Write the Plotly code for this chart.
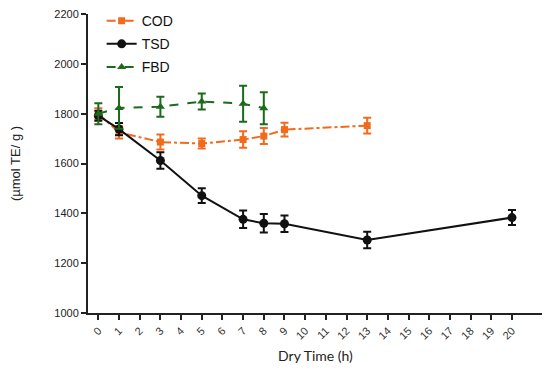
import plotly.graph_objects as go

# Data
cod_x = [0, 1, 3, 5, 7, 8, 9, 13]
cod_y = [1800, 1725, 1686, 1680, 1696, 1710, 1736, 1752]
cod_err = [22, 25, 30, 20, 33, 32, 28, 32]

tsd_x = [0, 1, 3, 5, 7, 8, 9, 13, 20]
tsd_y = [1792, 1738, 1612, 1471, 1376, 1360, 1358, 1293, 1383]
tsd_err = [20, 25, 33, 30, 35, 37, 33, 33, 30]

fbd_x = [0, 1, 3, 5, 7, 8]
fbd_y = [1800, 1823, 1828, 1849, 1840, 1822]
fbd_err = [42, 84, 40, 32, 72, 64]

x_ticks = list(range(0, 21))
y_ticks = [1000, 1200, 1400, 1600, 1800, 2000, 2200]

ORANGE = "#F26A1B"
GREEN = "#1C6B1C"
BLACK = "#111111"
FONT = "Liberation Sans, Arial, sans-serif"

fig = go.Figure()

fig.add_trace(go.Scatter(
    x=cod_x, y=cod_y, name="COD", mode="lines+markers", legendgroup="a",
    line=dict(color=ORANGE, width=2, dash="dashdot"),
    marker=dict(symbol="square", size=7, color=ORANGE),
    error_y=dict(type="data", array=cod_err, color=ORANGE, thickness=2, width=4),
))
fig.add_trace(go.Scatter(
    x=tsd_x, y=tsd_y, name="TSD", mode="lines+markers", legendgroup="b",
    line=dict(color=BLACK, width=2),
    marker=dict(symbol="circle", size=9, color=BLACK),
    error_y=dict(type="data", array=tsd_err, color=BLACK, thickness=2, width=4),
))
fig.add_trace(go.Scatter(
    x=fbd_x, y=fbd_y, name="FBD", mode="lines+markers", legendgroup="c",
    line=dict(color=GREEN, width=2, dash="dash"),
    marker=dict(symbol="triangle-up", size=8, color=GREEN),
    error_y=dict(type="data", array=fbd_err, color=GREEN, thickness=2, width=4),
))

fig.update_layout(
    width=542, height=363,
    margin=dict(l=80, r=7, t=6, b=58, autoexpand=False),
    plot_bgcolor="white", paper_bgcolor="white",
    showlegend=True,
    legend=dict(x=0.03, y=1.03, xanchor="left", yanchor="top",
                font=dict(family=FONT, size=14, color="#111"),
                bgcolor="rgba(0,0,0,0)", traceorder="grouped", tracegroupgap=2),
    font=dict(family=FONT, size=11, color="#222"),
)

fig.update_xaxes(
    range=[-0.5, 21.5], tickmode="array", tickvals=x_ticks,
    ticktext=[str(v) for v in x_ticks], tickangle=-45,
    showgrid=False, zeroline=False, automargin=False,
    showline=True, linecolor="#222", linewidth=2,
    ticks="outside", ticklen=5, tickwidth=2, tickcolor="#222",
    ticklabeloverflow="allow",
    tickfont=dict(family=FONT, size=11, color="#333"),
    title=dict(text="Dry Time (h)", font=dict(family="Lato", size=14, color="#222"),
               standoff=11),
)
fig.update_yaxes(
    range=[1000, 2200], tickmode="array", tickvals=y_ticks,
    showgrid=False, zeroline=False, automargin=False,
    showline=True, linecolor="#222", linewidth=2,
    ticks="outside", ticklen=5, tickwidth=2, tickcolor="#222",
    ticklabeloverflow="allow",
    tickfont=dict(family=FONT, size=11, color="#222"),
    title=dict(text="(µmol TE/ g )", font=dict(family=FONT, size=13, color="#222"), standoff=34),
)

fig.write_html("out.html")
